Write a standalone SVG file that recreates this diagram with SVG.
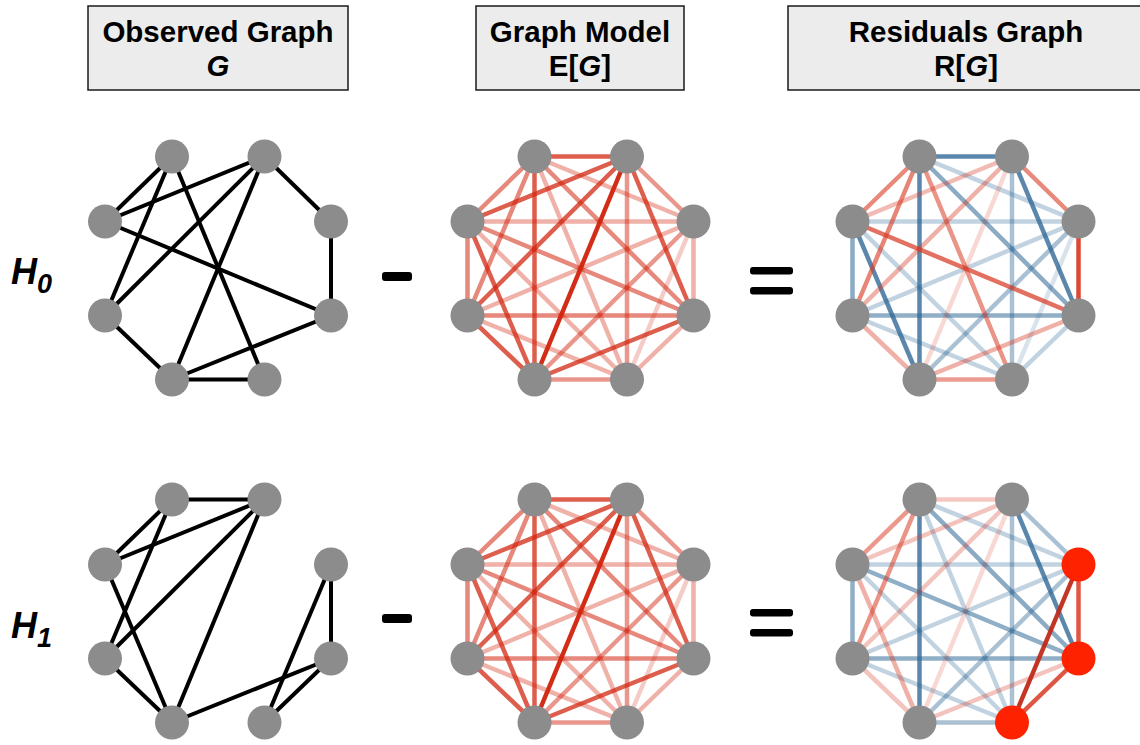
<svg xmlns="http://www.w3.org/2000/svg" width="1140" height="745" viewBox="0 0 1140 745">
<style>
  .hdr{fill:#ececec;stroke:#1a1a1a;stroke-width:1.5}
  .ht{font-family:"Liberation Sans",Arial,Helvetica,sans-serif;font-weight:bold;font-size:29.5px;fill:#000;text-anchor:middle}
  .it{font-style:italic}
  .hl{font-family:"Liberation Sans",Arial,Helvetica,sans-serif;font-weight:bold;font-style:italic;fill:#000}
  .node{fill:#8c8c8c}
  .hot{fill:#ff2200}
  .obs line{stroke:#000;stroke-width:4}
  .exp line{stroke:#d2260f;stroke-width:4.5}
  .res line{stroke-width:4.5}
  line.r{stroke:#d83a24}
  line.b{stroke:#2b6594}
  .e16{stroke-opacity:0.97;stroke-width:5.5}
  .e12{stroke-opacity:0.74}
  .e9{stroke-opacity:0.55}
  .e8{stroke-opacity:0.48}
  .e6{stroke-opacity:0.36}
  .e4{stroke-opacity:0.24}
  .op{fill:#000}
</style>

<!-- Header boxes -->
<g id="header-observed">
  <rect class="hdr" x="88" y="6" width="260" height="84"/>
  <text class="ht" x="218" y="42">Observed Graph</text>
  <text class="ht it" x="218" y="76">G</text>
</g>
<g id="header-model">
  <rect class="hdr" x="476" y="6" width="208" height="84"/>
  <text class="ht" x="580" y="42">Graph Model</text>
  <text class="ht" x="580" y="76">E[<tspan class="it">G</tspan>]</text>
</g>
<g id="header-residuals">
  <rect class="hdr" x="788" y="6" width="356" height="84"/>
  <text class="ht" x="966" y="42">Residuals Graph</text>
  <text class="ht" x="966" y="76">R[<tspan class="it">G</tspan>]</text>
</g>

<!-- Row labels -->
<g id="label-h0">
  <text class="hl" x="11" y="284" font-size="36">H</text>
  <text class="hl" x="37" y="293" font-size="27">0</text>
</g>
<g id="label-h1">
  <text class="hl" x="11" y="638" font-size="36">H</text>
  <text class="hl" x="37" y="647" font-size="27">1</text>
</g>

<!-- Operators -->
<g id="op-minus-h0"><rect class="op" x="382" y="272" width="30" height="9" rx="3"/></g>
<g id="op-equals-h0"><rect class="op" x="750" y="267" width="43" height="7.5" rx="3"/><rect class="op" x="750" y="287" width="43" height="7.5" rx="3"/></g>
<g id="op-minus-h1"><rect class="op" x="382" y="614" width="30" height="9" rx="3"/></g>
<g id="op-equals-h1"><rect class="op" x="750" y="609" width="43" height="7.5" rx="3"/><rect class="op" x="750" y="629" width="43" height="7.5" rx="3"/></g>

<!-- ===== H0 observed ===== -->
<g id="panel-h0-observed">
  <g id="connectors-h0-observed" class="obs">
    <line x1="172" y1="156.5" x2="105" y2="221.5"/>
    <line x1="172" y1="156.5" x2="105" y2="315.5"/>
    <line x1="172" y1="156.5" x2="264.5" y2="379.5"/>
    <line x1="264.5" y1="156.5" x2="105" y2="221.5"/>
    <line x1="264.5" y1="156.5" x2="105" y2="315.5"/>
    <line x1="264.5" y1="156.5" x2="172" y2="379.5"/>
    <line x1="264.5" y1="156.5" x2="331" y2="221.5"/>
    <line x1="331" y1="221.5" x2="331" y2="315.5"/>
    <line x1="105" y1="221.5" x2="331" y2="315.5"/>
    <line x1="105" y1="315.5" x2="172" y2="379.5"/>
    <line x1="172" y1="379.5" x2="331" y2="315.5"/>
    <line x1="172" y1="379.5" x2="264.5" y2="379.5"/>
  </g>
  <g id="n-h0o-0"><circle class="node" cx="172" cy="156.5" r="17"/></g>
  <g id="n-h0o-1"><circle class="node" cx="264.5" cy="156.5" r="17"/></g>
  <g id="n-h0o-2"><circle class="node" cx="331" cy="221.5" r="17"/></g>
  <g id="n-h0o-3"><circle class="node" cx="331" cy="315.5" r="17"/></g>
  <g id="n-h0o-4"><circle class="node" cx="264.5" cy="379.5" r="17"/></g>
  <g id="n-h0o-5"><circle class="node" cx="172" cy="379.5" r="17"/></g>
  <g id="n-h0o-6"><circle class="node" cx="105" cy="315.5" r="17"/></g>
  <g id="n-h0o-7"><circle class="node" cx="105" cy="221.5" r="17"/></g>
</g>

<!-- ===== H0 model ===== -->
<g id="panel-h0-model" transform="translate(362.5,0)">
  <g id="connectors-h0-model" class="exp">
    <line class="e4" x1="331" y1="221.5" x2="264.5" y2="379.5"/>
    <line class="e6" x1="172" y1="156.5" x2="331" y2="221.5"/>
    <line class="e6" x1="172" y1="156.5" x2="264.5" y2="379.5"/>
    <line class="e6" x1="331" y1="221.5" x2="331" y2="315.5"/>
    <line class="e6" x1="331" y1="221.5" x2="105" y2="315.5"/>
    <line class="e6" x1="331" y1="221.5" x2="105" y2="221.5"/>
    <line class="e6" x1="331" y1="315.5" x2="264.5" y2="379.5"/>
    <line class="e6" x1="264.5" y1="379.5" x2="105" y2="315.5"/>
    <line class="e6" x1="264.5" y1="379.5" x2="105" y2="221.5"/>
    <line class="e8" x1="264.5" y1="156.5" x2="331" y2="221.5"/>
    <line class="e8" x1="264.5" y1="156.5" x2="264.5" y2="379.5"/>
    <line class="e8" x1="331" y1="221.5" x2="172" y2="379.5"/>
    <line class="e8" x1="264.5" y1="379.5" x2="172" y2="379.5"/>
    <line class="e9" x1="172" y1="156.5" x2="331" y2="315.5"/>
    <line class="e9" x1="172" y1="156.5" x2="105" y2="315.5"/>
    <line class="e9" x1="172" y1="156.5" x2="105" y2="221.5"/>
    <line class="e9" x1="331" y1="315.5" x2="105" y2="315.5"/>
    <line class="e9" x1="331" y1="315.5" x2="105" y2="221.5"/>
    <line class="e9" x1="105" y1="315.5" x2="105" y2="221.5"/>
    <line class="e12" x1="172" y1="156.5" x2="264.5" y2="156.5"/>
    <line class="e12" x1="172" y1="156.5" x2="172" y2="379.5"/>
    <line class="e12" x1="264.5" y1="156.5" x2="331" y2="315.5"/>
    <line class="e12" x1="264.5" y1="156.5" x2="105" y2="315.5"/>
    <line class="e12" x1="264.5" y1="156.5" x2="105" y2="221.5"/>
    <line class="e12" x1="331" y1="315.5" x2="172" y2="379.5"/>
    <line class="e12" x1="172" y1="379.5" x2="105" y2="315.5"/>
    <line class="e12" x1="172" y1="379.5" x2="105" y2="221.5"/>
    <line class="e16" x1="264.5" y1="156.5" x2="172" y2="379.5"/>
  </g>
  <g id="n-h0m-0"><circle class="node" cx="172" cy="156.5" r="17"/></g>
  <g id="n-h0m-1"><circle class="node" cx="264.5" cy="156.5" r="17"/></g>
  <g id="n-h0m-2"><circle class="node" cx="331" cy="221.5" r="17"/></g>
  <g id="n-h0m-3"><circle class="node" cx="331" cy="315.5" r="17"/></g>
  <g id="n-h0m-4"><circle class="node" cx="264.5" cy="379.5" r="17"/></g>
  <g id="n-h0m-5"><circle class="node" cx="172" cy="379.5" r="17"/></g>
  <g id="n-h0m-6"><circle class="node" cx="105" cy="315.5" r="17"/></g>
  <g id="n-h0m-7"><circle class="node" cx="105" cy="221.5" r="17"/></g>
</g>

<!-- ===== H0 residuals ===== -->
<g id="panel-h0-residuals" transform="translate(747.5,0)">
  <g id="connectors-h0-residuals" class="res">
    <line class="b" stroke-opacity="0.18" x1="331" y1="221.5" x2="264.5" y2="379.5"/>
    <line class="b" stroke-opacity="0.29" x1="172" y1="156.5" x2="331" y2="221.5"/>
    <line class="b" stroke-opacity="0.29" x1="331" y1="221.5" x2="105" y2="315.5"/>
    <line class="b" stroke-opacity="0.29" x1="331" y1="221.5" x2="105" y2="221.5"/>
    <line class="b" stroke-opacity="0.29" x1="331" y1="315.5" x2="264.5" y2="379.5"/>
    <line class="b" stroke-opacity="0.29" x1="264.5" y1="379.5" x2="105" y2="315.5"/>
    <line class="b" stroke-opacity="0.29" x1="264.5" y1="379.5" x2="105" y2="221.5"/>
    <line class="b" stroke-opacity="0.40" x1="264.5" y1="156.5" x2="264.5" y2="379.5"/>
    <line class="b" stroke-opacity="0.40" x1="331" y1="221.5" x2="172" y2="379.5"/>
    <line class="b" stroke-opacity="0.55" x1="172" y1="156.5" x2="331" y2="315.5"/>
    <line class="b" stroke-opacity="0.52" x1="331" y1="315.5" x2="105" y2="315.5"/>
    <line class="b" stroke-opacity="0.55" x1="105" y1="315.5" x2="105" y2="221.5"/>
    <line class="b" stroke-opacity="0.78" x1="172" y1="156.5" x2="264.5" y2="156.5"/>
    <line class="b" stroke-opacity="0.78" x1="172" y1="156.5" x2="172" y2="379.5"/>
    <line class="b" stroke-opacity="0.78" x1="264.5" y1="156.5" x2="331" y2="315.5"/>
    <line class="b" stroke-opacity="0.78" x1="172" y1="379.5" x2="105" y2="221.5"/>
    <line class="r" stroke-opacity="0.20" x1="264.5" y1="156.5" x2="172" y2="379.5"/>
    <line class="r" stroke-opacity="0.35" x1="264.5" y1="156.5" x2="105" y2="221.5"/>
    <line class="r" stroke-opacity="0.40" x1="264.5" y1="156.5" x2="105" y2="315.5"/>
    <line class="r" stroke-opacity="0.40" x1="105" y1="315.5" x2="172" y2="379.5"/>
    <line class="r" stroke-opacity="0.40" x1="172" y1="379.5" x2="331" y2="315.5"/>
    <line class="r" stroke-opacity="0.50" x1="172" y1="379.5" x2="264.5" y2="379.5"/>
    <line class="r" stroke-opacity="0.55" x1="172" y1="156.5" x2="264.5" y2="379.5"/>
    <line class="r" stroke-opacity="0.60" x1="172" y1="156.5" x2="105" y2="221.5"/>
    <line class="r" stroke-opacity="0.62" x1="172" y1="156.5" x2="105" y2="315.5"/>
    <line class="r" stroke-opacity="0.60" x1="264.5" y1="156.5" x2="331" y2="221.5"/>
    <line class="r" stroke-opacity="0.72" x1="105" y1="221.5" x2="331" y2="315.5"/>
    <line class="r" stroke-opacity="0.92" x1="331" y1="221.5" x2="331" y2="315.5"/>
  </g>
  <g id="n-h0r-0"><circle class="node" cx="172" cy="156.5" r="17"/></g>
  <g id="n-h0r-1"><circle class="node" cx="264.5" cy="156.5" r="17"/></g>
  <g id="n-h0r-2"><circle class="node" cx="331" cy="221.5" r="17"/></g>
  <g id="n-h0r-3"><circle class="node" cx="331" cy="315.5" r="17"/></g>
  <g id="n-h0r-4"><circle class="node" cx="264.5" cy="379.5" r="17"/></g>
  <g id="n-h0r-5"><circle class="node" cx="172" cy="379.5" r="17"/></g>
  <g id="n-h0r-6"><circle class="node" cx="105" cy="315.5" r="17"/></g>
  <g id="n-h0r-7"><circle class="node" cx="105" cy="221.5" r="17"/></g>
</g>

<!-- ===== H1 observed ===== -->
<g id="panel-h1-observed" transform="translate(0,343)">
  <g id="connectors-h1-observed" class="obs">
    <line x1="172" y1="156.5" x2="264.5" y2="156.5"/>
    <line x1="172" y1="156.5" x2="105" y2="221.5"/>
    <line x1="172" y1="156.5" x2="105" y2="315.5"/>
    <line x1="264.5" y1="156.5" x2="105" y2="221.5"/>
    <line x1="264.5" y1="156.5" x2="105" y2="315.5"/>
    <line x1="264.5" y1="156.5" x2="172" y2="379.5"/>
    <line x1="105" y1="221.5" x2="172" y2="379.5"/>
    <line x1="105" y1="315.5" x2="172" y2="379.5"/>
    <line x1="172" y1="379.5" x2="331" y2="315.5"/>
    <line x1="331" y1="221.5" x2="331" y2="315.5"/>
    <line x1="331" y1="221.5" x2="264.5" y2="379.5"/>
    <line x1="331" y1="315.5" x2="264.5" y2="379.5"/>
  </g>
  <g id="n-h1o-0"><circle class="node" cx="172" cy="156.5" r="17"/></g>
  <g id="n-h1o-1"><circle class="node" cx="264.5" cy="156.5" r="17"/></g>
  <g id="n-h1o-2"><circle class="node" cx="331" cy="221.5" r="17"/></g>
  <g id="n-h1o-3"><circle class="node" cx="331" cy="315.5" r="17"/></g>
  <g id="n-h1o-4"><circle class="node" cx="264.5" cy="379.5" r="17"/></g>
  <g id="n-h1o-5"><circle class="node" cx="172" cy="379.5" r="17"/></g>
  <g id="n-h1o-6"><circle class="node" cx="105" cy="315.5" r="17"/></g>
  <g id="n-h1o-7"><circle class="node" cx="105" cy="221.5" r="17"/></g>
</g>

<!-- ===== H1 model ===== -->
<g id="panel-h1-model" transform="translate(362.5,343)">
  <g id="connectors-h1-model" class="exp">
    <line class="e4" x1="331" y1="221.5" x2="264.5" y2="379.5"/>
    <line class="e6" x1="172" y1="156.5" x2="331" y2="221.5"/>
    <line class="e6" x1="172" y1="156.5" x2="264.5" y2="379.5"/>
    <line class="e6" x1="331" y1="221.5" x2="331" y2="315.5"/>
    <line class="e6" x1="331" y1="221.5" x2="105" y2="315.5"/>
    <line class="e6" x1="331" y1="221.5" x2="105" y2="221.5"/>
    <line class="e6" x1="331" y1="315.5" x2="264.5" y2="379.5"/>
    <line class="e6" x1="264.5" y1="379.5" x2="105" y2="315.5"/>
    <line class="e6" x1="264.5" y1="379.5" x2="105" y2="221.5"/>
    <line class="e8" x1="264.5" y1="156.5" x2="331" y2="221.5"/>
    <line class="e8" x1="264.5" y1="156.5" x2="264.5" y2="379.5"/>
    <line class="e8" x1="331" y1="221.5" x2="172" y2="379.5"/>
    <line class="e8" x1="264.5" y1="379.5" x2="172" y2="379.5"/>
    <line class="e9" x1="172" y1="156.5" x2="331" y2="315.5"/>
    <line class="e9" x1="172" y1="156.5" x2="105" y2="315.5"/>
    <line class="e9" x1="172" y1="156.5" x2="105" y2="221.5"/>
    <line class="e9" x1="331" y1="315.5" x2="105" y2="315.5"/>
    <line class="e9" x1="331" y1="315.5" x2="105" y2="221.5"/>
    <line class="e9" x1="105" y1="315.5" x2="105" y2="221.5"/>
    <line class="e12" x1="172" y1="156.5" x2="264.5" y2="156.5"/>
    <line class="e12" x1="172" y1="156.5" x2="172" y2="379.5"/>
    <line class="e12" x1="264.5" y1="156.5" x2="331" y2="315.5"/>
    <line class="e12" x1="264.5" y1="156.5" x2="105" y2="315.5"/>
    <line class="e12" x1="264.5" y1="156.5" x2="105" y2="221.5"/>
    <line class="e12" x1="331" y1="315.5" x2="172" y2="379.5"/>
    <line class="e12" x1="172" y1="379.5" x2="105" y2="315.5"/>
    <line class="e12" x1="172" y1="379.5" x2="105" y2="221.5"/>
    <line class="e16" x1="264.5" y1="156.5" x2="172" y2="379.5"/>
  </g>
  <g id="n-h1m-0"><circle class="node" cx="172" cy="156.5" r="17"/></g>
  <g id="n-h1m-1"><circle class="node" cx="264.5" cy="156.5" r="17"/></g>
  <g id="n-h1m-2"><circle class="node" cx="331" cy="221.5" r="17"/></g>
  <g id="n-h1m-3"><circle class="node" cx="331" cy="315.5" r="17"/></g>
  <g id="n-h1m-4"><circle class="node" cx="264.5" cy="379.5" r="17"/></g>
  <g id="n-h1m-5"><circle class="node" cx="172" cy="379.5" r="17"/></g>
  <g id="n-h1m-6"><circle class="node" cx="105" cy="315.5" r="17"/></g>
  <g id="n-h1m-7"><circle class="node" cx="105" cy="221.5" r="17"/></g>
</g>

<!-- ===== H1 residuals ===== -->
<g id="panel-h1-residuals" transform="translate(747.5,343)">
  <g id="connectors-h1-residuals" class="res">
    <line class="b" stroke-opacity="0.29" x1="172" y1="156.5" x2="331" y2="221.5"/>
    <line class="b" stroke-opacity="0.29" x1="172" y1="156.5" x2="264.5" y2="379.5"/>
    <line class="b" stroke-opacity="0.29" x1="331" y1="221.5" x2="105" y2="315.5"/>
    <line class="b" stroke-opacity="0.29" x1="331" y1="221.5" x2="105" y2="221.5"/>
    <line class="b" stroke-opacity="0.29" x1="264.5" y1="379.5" x2="105" y2="315.5"/>
    <line class="b" stroke-opacity="0.29" x1="264.5" y1="379.5" x2="105" y2="221.5"/>
    <line class="b" stroke-opacity="0.40" x1="264.5" y1="156.5" x2="331" y2="221.5"/>
    <line class="b" stroke-opacity="0.40" x1="264.5" y1="156.5" x2="264.5" y2="379.5"/>
    <line class="b" stroke-opacity="0.40" x1="331" y1="221.5" x2="172" y2="379.5"/>
    <line class="b" stroke-opacity="0.40" x1="264.5" y1="379.5" x2="172" y2="379.5"/>
    <line class="b" stroke-opacity="0.55" x1="172" y1="156.5" x2="331" y2="315.5"/>
    <line class="b" stroke-opacity="0.52" x1="331" y1="315.5" x2="105" y2="315.5"/>
    <line class="b" stroke-opacity="0.52" x1="331" y1="315.5" x2="105" y2="221.5"/>
    <line class="b" stroke-opacity="0.52" x1="105" y1="315.5" x2="105" y2="221.5"/>
    <line class="b" stroke-opacity="0.78" x1="172" y1="156.5" x2="172" y2="379.5"/>
    <line class="b" stroke-opacity="0.78" x1="264.5" y1="156.5" x2="331" y2="315.5"/>
    <line class="r" stroke-opacity="0.20" x1="264.5" y1="156.5" x2="172" y2="379.5"/>
    <line class="r" stroke-opacity="0.28" x1="172" y1="156.5" x2="264.5" y2="156.5"/>
    <line class="r" stroke-opacity="0.30" x1="264.5" y1="156.5" x2="105" y2="221.5"/>
    <line class="r" stroke-opacity="0.30" x1="264.5" y1="156.5" x2="105" y2="315.5"/>
    <line class="r" stroke-opacity="0.30" x1="105" y1="315.5" x2="172" y2="379.5"/>
    <line class="r" stroke-opacity="0.30" x1="172" y1="379.5" x2="331" y2="315.5"/>
    <line class="r" stroke-opacity="0.40" x1="105" y1="221.5" x2="172" y2="379.5"/>
    <line class="r" stroke-opacity="0.52" x1="172" y1="156.5" x2="105" y2="221.5"/>
    <line class="r" stroke-opacity="0.55" x1="172" y1="156.5" x2="105" y2="315.5"/>
    <line class="r" stroke-opacity="0.85" x1="331" y1="221.5" x2="331" y2="315.5"/>
    <line class="r" stroke-opacity="0.85" x1="331" y1="315.5" x2="264.5" y2="379.5"/>
    <line stroke="#c02a18" stroke-opacity="0.95" x1="331" y1="221.5" x2="264.5" y2="379.5"/>
  </g>
  <g id="n-h1r-0"><circle class="node" cx="172" cy="156.5" r="17"/></g>
  <g id="n-h1r-1"><circle class="node" cx="264.5" cy="156.5" r="17"/></g>
  <g id="n-h1r-2"><circle class="hot" cx="331" cy="221.5" r="17"/></g>
  <g id="n-h1r-3"><circle class="hot" cx="331" cy="315.5" r="17"/></g>
  <g id="n-h1r-4"><circle class="hot" cx="264.5" cy="379.5" r="17"/></g>
  <g id="n-h1r-5"><circle class="node" cx="172" cy="379.5" r="17"/></g>
  <g id="n-h1r-6"><circle class="node" cx="105" cy="315.5" r="17"/></g>
  <g id="n-h1r-7"><circle class="node" cx="105" cy="221.5" r="17"/></g>
</g>
</svg>
